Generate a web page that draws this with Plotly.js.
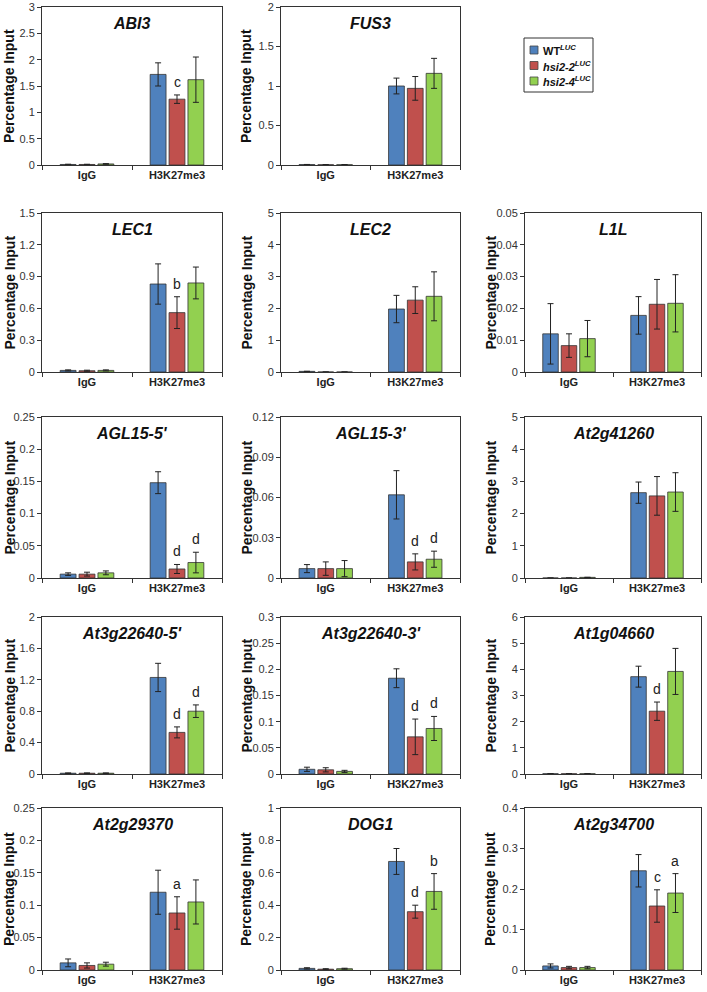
<!DOCTYPE html>
<html>
<head>
<meta charset="utf-8">
<script src="https://cdn.plot.ly/plotly-3.0.1.min.js"></script>
<style>
  html, body { margin: 0; padding: 0; background: #fff; }
  #chart { width: 707px; height: 992px; }
</style>
</head>
<body>
<div id="chart"></div>
<script>
var categories = ['IgG', 'H3K27me3'];
var seriesNames = ['WT<sup><i>LUC</i></sup>', '<i>hsi2-2<sup>LUC</sup></i>', '<i>hsi2-4<sup>LUC</sup></i>'];

var genes = ['ABI3', 'FUS3', 'LEC1', 'LEC2', 'L1L', "AGL15-5'", "AGL15-3'", 'At2g41260',
  "At3g22640-5'", "At3g22640-3'", 'At1g04660', 'At2g29370', 'DOG1', 'At2g34700'];

// y axis max and tick step per panel
var yMax  = [3, 2, 1.5, 5, 0.05, 0.25, 0.12, 5, 2, 0.3, 6, 0.25, 1, 0.4];
var yStep = [0.5, 0.5, 0.3, 1, 0.01, 0.05, 0.03, 1, 0.4, 0.05, 1, 0.05, 0.2, 0.1];

// [IgG, H3K27me3] means and errors
var wtMean = [[0.01, 1.72], [0.005, 1.0], [0.015, 0.83], [0.02, 1.98], [0.012, 0.0178],
  [0.006, 0.148], [0.007, 0.062], [0, 2.65], [0.01, 1.23], [0.009, 0.183],
  [0.01, 3.72], [0.011, 0.12], [0.01, 0.67], [0.01, 0.245]];
var wtErr = [[0.005, 0.22], [0.002, 0.1], [0.005, 0.19], [0, 0.43], [0.0095, 0.0059],
  [0.002, 0.017], [0.003, 0.018], [0, 0.33], [0.004, 0.18], [0.004, 0.018],
  [0, 0.4], [0.006, 0.034], [0.004, 0.08], [0.005, 0.04]];

var hsi22Mean = [[0.01, 1.25], [0.003, 0.97], [0.012, 0.56], [0, 2.26], [0.0083, 0.0213],
  [0.006, 0.014], [0.007, 0.012], [0, 2.55], [0.01, 0.53], [0.008, 0.071],
  [0.01, 2.4], [0.007, 0.088], [0.005, 0.36], [0.006, 0.158]];
var hsi22Err = [[0.004, 0.08], [0.002, 0.15], [0.005, 0.15], [0, 0.42], [0.0037, 0.0078],
  [0.003, 0.007], [0.005, 0.006], [0, 0.6], [0.004, 0.07], [0.004, 0.034],
  [0, 0.35], [0.004, 0.025], [0.003, 0.04], [0.003, 0.04]];

var hsi24Mean = [[0.02, 1.62], [0.003, 1.16], [0.015, 0.84], [0, 2.38], [0.0105, 0.0216],
  [0.008, 0.024], [0.007, 0.014], [0.02, 2.67], [0.01, 0.8], [0.005, 0.087],
  [0.01, 3.92], [0.009, 0.105], [0.008, 0.485], [0.006, 0.19]];
var hsi24Err = [[0.006, 0.43], [0.002, 0.19], [0.005, 0.15], [0, 0.77], [0.0057, 0.009],
  [0.003, 0.016], [0.006, 0.006], [0, 0.6], [0.004, 0.08], [0.002, 0.023],
  [0, 0.88], [0.003, 0.034], [0.003, 0.11], [0.003, 0.048]];

// significance letters on the H3K27me3 bars
var letters22 = ['c', '', 'b', '', '', 'd', 'd', '', 'd', 'd', 'd', 'a', 'd', 'c'];
var letters24 = ['', '', '', '', '', 'd', 'd', '', 'd', 'd', '', '', 'b', 'a'];

var colors = ['#4f81bd', '#c0504d', '#92d050'];

/* panel grid, in pixels */
var W = 707, H = 992;
var colX = [[42, 222], [281, 460], [525, 701]];
var rowY = [[7, 165], [213, 372], [417, 578], [617, 774], [808, 970]];
var panelCells = [[0, 0], [0, 1], [1, 0], [1, 1], [1, 2], [2, 0], [2, 1], [2, 2],
  [3, 0], [3, 1], [3, 2], [4, 0], [4, 1], [4, 2]];
var titleX = [9, 246, 490];

var bargap = 0.37;
var data = [];
var annotations = [];
var shapes = [];
var layout = {
  width: W, height: H,
  margin: {l: 0, r: 0, t: 0, b: 0},
  paper_bgcolor: '#fff', plot_bgcolor: '#fff',
  barmode: 'group', bargap: bargap, bargroupgap: 0.16,
  font: {family: 'Arial, Liberation Sans, sans-serif', color: '#222'},
  showlegend: false
};

var means = [wtMean, hsi22Mean, hsi24Mean];
var errs = [wtErr, hsi22Err, hsi24Err];

genes.forEach(function(gene, p) {
  var n = p === 0 ? '' : String(p + 1);
  var cell = panelCells[p];
  var xr = colX[cell[1]], yr = rowY[cell[0]];

  for (var s = 0; s < 3; s++) {
    data.push({
      type: 'bar',
      name: seriesNames[s],
      x: categories,
      y: means[s][p],
      xaxis: 'x' + n, yaxis: 'y' + n,
      marker: {color: colors[s], line: {color: '#333', width: 0.8}},
      error_y: {type: 'data', array: errs[s][p], visible: true, color: '#222', thickness: 1, width: 3},
      hoverinfo: 'skip'
    });
  }

  layout['xaxis' + n] = {
    domain: [xr[0] / W, xr[1] / W],
    anchor: 'y' + n,
    type: 'category',
    range: [-0.5, 1.5],
    showline: true, mirror: true, linecolor: '#333', linewidth: 1,
    ticks: 'outside', tickson: 'boundaries', ticklen: 4, tickcolor: '#333',
    tickfont: {size: 11, weight: 'bold', color: '#222'},
    showgrid: false, zeroline: false, fixedrange: true
  };
  layout['yaxis' + n] = {
    domain: [1 - yr[1] / H, 1 - yr[0] / H],
    anchor: 'x' + n,
    range: [0, yMax[p]],
    dtick: yStep[p], tick0: 0,
    showline: true, mirror: true, linecolor: '#333', linewidth: 1,
    ticks: 'outside', ticklen: 4, tickcolor: '#333',
    tickfont: {size: 11, color: '#333'},
    showgrid: false, zeroline: false, fixedrange: true
  };

  // gene name
  annotations.push({
    text: '<b><i>' + gene + '</i></b>',
    xref: 'x' + n + ' domain', yref: 'y' + n + ' domain',
    x: 0.5, y: 1, xanchor: 'center', yanchor: 'top', yshift: -6,
    showarrow: false, font: {size: 16, color: '#111'}
  });

  // y title
  annotations.push({
    text: '<b>Percentage Input</b>',
    xref: 'paper', yref: 'y' + n + ' domain',
    x: titleX[cell[1]] / W, y: 0.5, xanchor: 'center', yanchor: 'middle',
    textangle: -90, showarrow: false, font: {size: 14, color: '#111'}
  });

  // letters over mutant bars
  var slot = (1 - bargap) / 3;
  [[letters22, 1], [letters24, 2]].forEach(function(pair) {
    var letter = pair[0][p], s = pair[1];
    if (!letter) return;
    annotations.push({
      text: letter,
      xref: 'x' + n, yref: 'y' + n,
      x: 1 + (s - 1) * slot, y: means[s][p][1] + errs[s][p][1],
      xanchor: 'center', yanchor: 'bottom', yshift: 3,
      showarrow: false, font: {size: 14, color: '#222'}
    });
  });
});

// legend box drawn by hand so it stays as compact as the original
var legX = 524, legY = 38, legW = 69, legH = 54;
shapes.push({
  type: 'rect', xref: 'paper', yref: 'paper',
  x0: legX / W, x1: (legX + legW) / W, y0: 1 - legY / H, y1: 1 - (legY + legH) / H,
  line: {color: '#333', width: 1}, fillcolor: '#fff'
});
seriesNames.forEach(function(name, s) {
  var cy = legY + 12 + s * 15.5;
  shapes.push({
    type: 'rect', xref: 'paper', yref: 'paper',
    x0: (legX + 6) / W, x1: (legX + 14) / W, y0: 1 - (cy - 4) / H, y1: 1 - (cy + 4) / H,
    line: {color: '#444', width: 0.8}, fillcolor: colors[s]
  });
  annotations.push({
    text: '<b>' + name + '</b>',
    xref: 'paper', yref: 'paper',
    x: (legX + 17) / W, y: 1 - cy / H, xanchor: 'left', yanchor: 'middle',
    showarrow: false, font: {size: 11, color: '#111'}
  });
});

layout.annotations = annotations;
layout.shapes = shapes;

Plotly.newPlot('chart', data, layout, {displayModeBar: false, staticPlot: true});
</script>
</body>
</html>
